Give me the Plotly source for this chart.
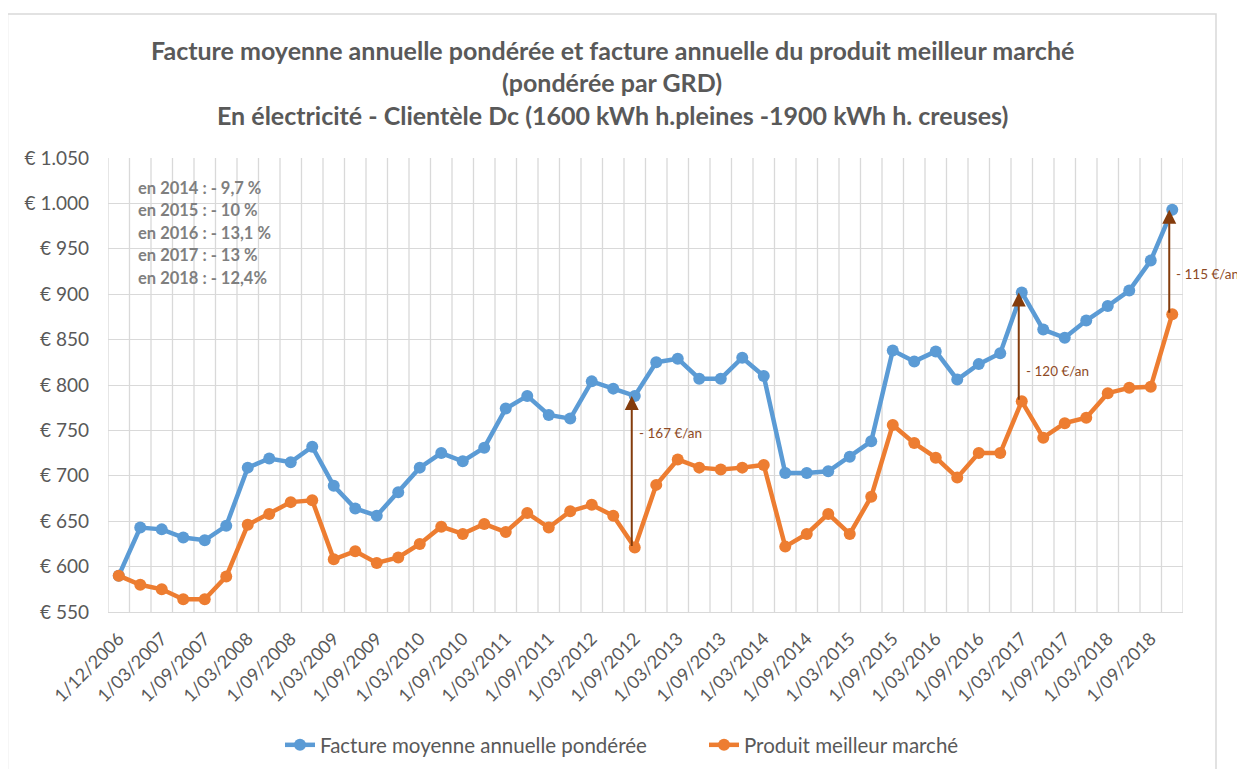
import plotly.graph_objects as go

# ---------------- data ----------------
dates = [
    "1/12/2006", "1/01/2007", "1/03/2007", "1/06/2007", "1/09/2007", "1/12/2007",
    "1/03/2008", "1/06/2008", "1/09/2008", "1/12/2008",
    "1/03/2009", "1/06/2009", "1/09/2009", "1/12/2009",
    "1/03/2010", "1/06/2010", "1/09/2010", "1/12/2010",
    "1/03/2011", "1/06/2011", "1/09/2011", "1/12/2011",
    "1/03/2012", "1/06/2012", "1/09/2012", "1/12/2012",
    "1/03/2013", "1/06/2013", "1/09/2013", "1/12/2013",
    "1/03/2014", "1/06/2014", "1/09/2014", "1/12/2014",
    "1/03/2015", "1/06/2015", "1/09/2015", "1/12/2015",
    "1/03/2016", "1/06/2016", "1/09/2016", "1/12/2016",
    "1/03/2017", "1/06/2017", "1/09/2017", "1/12/2017",
    "1/03/2018", "1/06/2018", "1/09/2018", "1/12/2018",
]

facture_moyenne = [
    590, 643, 641, 632, 629, 645, 709, 719, 715, 732,
    689, 664, 656, 682, 709, 725, 716, 731, 774, 788,
    767, 763, 804, 796, 788, 825, 829, 807, 807, 830,
    810, 703, 703, 705, 721, 738, 838, 826, 837, 806,
    823, 835, 902, 861, 852, 871, 887, 904, 937, 993,
]

meilleur_marche = [
    590, 580, 575, 564, 564, 589, 646, 658, 671, 673,
    608, 617, 604, 610, 625, 644, 636, 647, 638, 659,
    643, 661, 668, 656, 621, 690, 718, 709, 707, 709,
    712, 622, 636, 658, 636, 677, 756, 736, 720, 698,
    725, 725, 782, 742, 758, 764, 791, 797, 798, 878,
]

tick_labels = dates[::2]

# gap annotations: (category, label)
gap_points = ["1/09/2012", "1/03/2017", "1/12/2018"]
gap_labels = ["- 167 €/an", "- 120 €/an", "- 115 €/an"]
gap_label_y = [747, 815, 922]

note_lines = [
    "en 2014 : - 9,7 %",
    "en 2015 : - 10 %",
    "en 2016 : - 13,1 %",
    "en 2017 : - 13 %",
    "en 2018 : - 12,4%",
]

title_lines = [
    "Facture moyenne annuelle pondérée et facture annuelle du produit meilleur marché",
    "(pondérée par GRD)",
    "En électricité - Clientèle Dc (1600 kWh h.pleines -1900 kWh h. creuses)",
]

# ---------------- layout helpers ----------------
OFF = 8                      # page body margin
W, H = 1245, 769
PL, PR, PT, PB = 108, 1183, 158, 612   # plot area in page pixels
L, T = PL - OFF, PT - OFF
R, B = W - (PR - OFF), H - (PB - OFF)
PW, PH = PR - PL, PB - PT


def px_x(px):
    return (px - PL) / PW


def px_y(py):
    return (PB - py) / PH


FONT = "Lato, 'Open Sans', sans-serif"
GRID = "#D9D9D9"
TXT = "#595959"
BROWN = "#843C0C"

fig = go.Figure()
fig.add_trace(go.Scatter(
    x=dates, y=facture_moyenne, mode="lines+markers",
    name="Facture moyenne annuelle pondérée",
    line=dict(color="#5B9BD5", width=4.5),
    marker=dict(size=12, color="#5B9BD5"),
    legend="legend",
))
fig.add_trace(go.Scatter(
    x=dates, y=meilleur_marche, mode="lines+markers",
    name="Produit meilleur marché",
    line=dict(color="#ED7D31", width=4.5),
    marker=dict(size=12, color="#ED7D31"),
    legend="legend2",
))

shapes = []
# vertical gridlines at category boundaries
for i in range(len(dates) + 1):
    shapes.append(dict(type="line", xref="x", yref="paper",
                       x0=i - 0.5, x1=i - 0.5, y0=0, y1=1,
                       line=dict(color=GRID, width=1.3), layer="below"))
# chart frame
shapes.append(dict(type="rect", xref="paper", yref="paper",
                   x0=px_x(7.5), x1=px_x(1216), y0=px_y(800), y1=px_y(14),
                   line=dict(color=GRID, width=1.5), layer="below"))

annotations = []
for i, line in enumerate(title_lines):
    annotations.append(dict(
        xref="paper", yref="paper", x=px_x(612), y=px_y([50, 82, 115][i]),
        xanchor="center", yanchor="middle", showarrow=False, text="<b>%s</b>" % line,
        font=dict(family=FONT, size=25, color=TXT)))

for i, line in enumerate(note_lines):
    annotations.append(dict(
        xref="paper", yref="paper", x=px_x(136), y=px_y(188 + 22.5 * i),
        xanchor="left", yanchor="middle", showarrow=False, text="<b>%s</b>" % line,
        font=dict(family=FONT, size=16.5, color="#7F7F7F")))

for cat, lab, ly in zip(gap_points, gap_labels, gap_label_y):
    k = dates.index(cat)
    annotations.append(dict(
        x=cat, y=facture_moyenne[k], ax=cat, ay=meilleur_marche[k],
        xref="x", yref="y", axref="x", ayref="y", text="",
        showarrow=True, arrowhead=2, arrowsize=1.4, arrowwidth=2,
        arrowcolor=BROWN, standoff=0, startstandoff=0, xshift=-3))
    annotations.append(dict(
        x=cat, y=ly, xref="x", yref="y", xanchor="left", yanchor="middle",
        xshift=3, showarrow=False, text=lab, borderpad=0,
        font=dict(family=FONT, size=13.5, color="#8E4A25")))

leg_common = dict(orientation="h", yanchor="middle", y=px_y(745), xanchor="left",
                  font=dict(family=FONT, size=20.5, color=TXT),
                  itemwidth=30, bgcolor="rgba(0,0,0,0)")

fig.update_layout(
    width=W, height=H,
    margin=dict(l=L, r=R, t=T, b=B, autoexpand=False),
    paper_bgcolor="white", plot_bgcolor="white",
    separators=",.",
    font=dict(family=FONT, color=TXT),
    showlegend=True,
    legend=dict(x=px_x(280), **leg_common),
    legend2=dict(x=px_x(704), **leg_common),
    shapes=shapes,
    annotations=annotations,
)
fig.update_xaxes(type="category", range=[-0.5, len(dates) - 0.5],
                 tickmode="array", tickvals=tick_labels, ticktext=tick_labels,
                 tickangle=-45, tickfont=dict(family=FONT, size=18, color=TXT),
                 showgrid=False, showline=True, linecolor=GRID, linewidth=1.3,
                 ticks="", zeroline=False, automargin=False, ticklabelstandoff=8)
fig.update_yaxes(range=[550, 1050], tick0=550, dtick=50,
                 tickprefix="€ ", tickformat=",d",
                 tickfont=dict(family=FONT, size=19, color=TXT),
                 showgrid=True, gridcolor=GRID, gridwidth=1.3,
                 zeroline=False, ticks="", ticklabelstandoff=18, showline=False,
                 automargin=False)

fig.write_html("out.html")
